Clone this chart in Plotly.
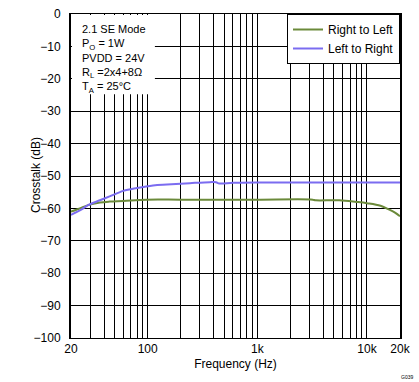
import plotly.graph_objects as go
import numpy as np

# Data
freq_lr = [20, 25, 28.6, 36.7, 45, 60, 80, 112, 150, 243, 370, 420, 450, 600, 1000, 2000, 5000, 10000, 20000]
db_lr = [-62.0, -60.3, -59.0, -57.5, -56.3, -54.6, -53.7, -52.9, -52.6, -52.2, -51.9, -51.9, -52.3, -52.1, -52.0, -52.0, -52.0, -52.0, -52.0]

freq_rl = [20, 25, 28.6, 36.7, 45, 60, 98, 200, 500, 1000, 3200, 3400, 5600, 8000, 10000, 13300, 16000, 18000, 20000]
db_rl = [-61.0, -59.8, -59.0, -58.2, -57.9, -57.7, -57.3, -57.3, -57.3, -57.3, -57.3, -57.5, -57.5, -58.0, -58.4, -59.2, -60.4, -61.3, -62.4]

x_tick_vals = [20, 100, 1000, 10000, 20000]
x_tick_text = ["20", "100", "1k", "10k", "20k"]
x_minor_vals = [30, 40, 50, 60, 70, 80, 90, 200, 300, 400, 500, 600, 700, 800, 900,
                2000, 3000, 4000, 5000, 6000, 7000, 8000, 9000]
y_ticks = list(range(0, -101, -10))

condition_lines = ["2.1 SE Mode", "P<sub>O</sub> = 1W", "PVDD = 24V",
                   "R<sub>L</sub> =2x4+8Ω", "T<sub>A</sub> = 25°C"]

font_family = "Liberation Sans, Arial, sans-serif"

W, H = 419, 382
ML, MR, MT, MB = 71, 19, 7, 44
PW = W - ML - MR
PH = H - MT - MB

fig = go.Figure()
fig.add_trace(go.Scatter(x=freq_rl, y=db_rl, mode="lines", name="Right to Left",
                         line=dict(color="#6B8A3A", width=2), line_shape="spline"))
fig.add_trace(go.Scatter(x=freq_lr, y=db_lr, mode="lines", name="Left to Right",
                         line=dict(color="#7B6CF0", width=2), line_shape="spline"))

fig.update_xaxes(type="log", range=[np.log10(20), np.log10(20000)],
                 tickmode="array", tickvals=x_tick_vals, ticktext=x_tick_text,
                 showgrid=True, gridcolor="black", gridwidth=1,
                 minor=dict(tickmode="array", tickvals=x_minor_vals, showgrid=True,
                            gridcolor="black", gridwidth=1, ticks=""),
                 showline=True, linecolor="black", linewidth=1, mirror=True,
                 ticks="", tickfont=dict(size=12, color="black", family=font_family),
                 title=dict(text="Frequency (Hz)", font=dict(size=12, color="black", family=font_family), standoff=4),
                 zeroline=False)
fig.update_yaxes(range=[-100, 0], tickvals=y_ticks,
                 showgrid=True, gridcolor="black", gridwidth=1,
                 showline=True, linecolor="black", linewidth=2, mirror=True,
                 ticks="outside", ticklen=6, tickcolor="white",
                 tickfont=dict(size=12, color="black", family=font_family),
                 zeroline=False)

# y-axis title placed like the reference (closer to the shorter tick labels)
fig.add_annotation(xref="paper", yref="paper", x=(36 - ML) / PW, y=1 - (171.5 - MT) / PH,
                   xanchor="center", yanchor="middle", textangle=-90, showarrow=False,
                   text="Crosstalk (dB)", font=dict(size=12, color="black", family=font_family))

# white box behind condition text
fig.add_shape(type="rect", xref="paper", yref="paper", x0=0.003, x1=0.255, y0=0.752, y1=0.997,
              fillcolor="white", line=dict(width=0), layer="above")

fig.add_annotation(xref="paper", yref="paper", x=0.03, y=1 - (15 - MT) / PH,
                   xanchor="left", yanchor="top", align="left", showarrow=False,
                   borderpad=0, text="<br>".join(condition_lines),
                   font=dict(size=11, color="black", family=font_family))

fig.add_annotation(xref="paper", yref="paper", x=1.045, y=-0.105, xanchor="right", yanchor="top",
                   showarrow=False, text="G039", font=dict(size=5, color="black", family=font_family))

fig.update_layout(width=W, height=H, margin=dict(l=ML, r=MR, t=MT, b=MB),
                  plot_bgcolor="white", paper_bgcolor="white",
                  font=dict(family=font_family, color="black"),
                  legend=dict(x=1, y=1, xanchor="right", yanchor="top", bgcolor="white",
                              bordercolor="black", borderwidth=1,
                              font=dict(size=12, color="black", family=font_family),
                              tracegroupgap=0, itemwidth=30))

fig.write_html("out.html", config={"displayModeBar": False},
               post_script="document.body.style.margin='0';document.body.style.padding='0';")
